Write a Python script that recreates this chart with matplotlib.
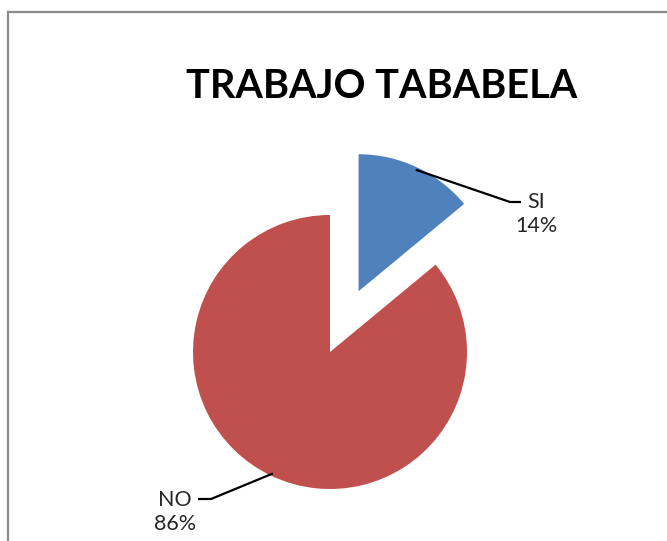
import matplotlib
matplotlib.use("Agg")
import matplotlib.pyplot as plt
import numpy as np
from matplotlib.lines import Line2D

labels = ["SI", "NO"]
values = [14, 86]
colors = ["#4F81BD", "#C0504D"]
title = "TRABAJO TABABELA"

W, H = 667, 541
fig = plt.figure(figsize=(W / 100, H / 100), dpi=100)
fig.patch.set_facecolor("white")

# pie centre at (330, 352) px from top-left, radius 137 px
cx, cy, r = 330, 352, 137
ax = fig.add_axes([0, 0, 1, 1])
ax.axis("off")

wedges, _ = ax.pie(values, colors=colors, startangle=90, counterclock=False,
                   explode=[0.49, 0], radius=1, wedgeprops=dict(linewidth=0))
ax.set_aspect("auto")
ax.set_xlim(-cx / r, (W - cx) / r)
ax.set_ylim(-(H - cy) / r, cy / r)


def px(x, y):
    # figure pixel (from top-left) -> data coords
    return (x - cx) / r, (H - y - (H - cy)) / r


def arc_point(w, frac=0.98):
    mid = np.deg2rad((w.theta1 + w.theta2) / 2)
    x0, y0 = w.center
    return x0 + frac * np.cos(mid), y0 + frac * np.sin(mid)


pct = [v / sum(values) * 100 for v in values]

# SI label
sx, sy = arc_point(wedges[0])
e1 = px(510, 202)
e2 = px(521, 202)
ax.plot([sx, e1[0], e2[0]], [sy, e1[1], e2[1]], color="black", lw=1.6, solid_capstyle="butt")
tx, ty = px(536, 214)
ax.text(tx, ty, f"{labels[0]}\n{pct[0]:.0f}%", ha="center", va="center",
        multialignment="center", fontsize=15.5, family="Lato", color="#262626",
        linespacing=1.25)

# NO label
nx, ny = arc_point(wedges[1])
e1 = px(211, 499)
e2 = px(198, 499)
ax.plot([nx, e1[0], e2[0]], [ny, e1[1], e2[1]], color="black", lw=1.6, solid_capstyle="butt")
tx, ty = px(175, 512)
ax.text(tx, ty, f"{labels[1]}\n{pct[1]:.0f}%", ha="center", va="center",
        multialignment="center", fontsize=15.5, family="Lato", color="#262626",
        linespacing=1.25)

fig.text(382 / W, 1 - 87 / H, title, ha="center", va="center",
         fontsize=28.5, fontweight="bold", family="Lato", color="black")

# chart border (left and top edges visible)
fig.add_artist(Line2D([8 / W, 8 / W], [1 - 12 / H, 0], color="#8a8a8a", lw=1.6,
                      transform=fig.transFigure))
fig.add_artist(Line2D([8 / W, 1], [1 - 12 / H, 1 - 12 / H], color="#8a8a8a", lw=1.6,
                      transform=fig.transFigure))

fig.savefig("out.png", dpi=100)
